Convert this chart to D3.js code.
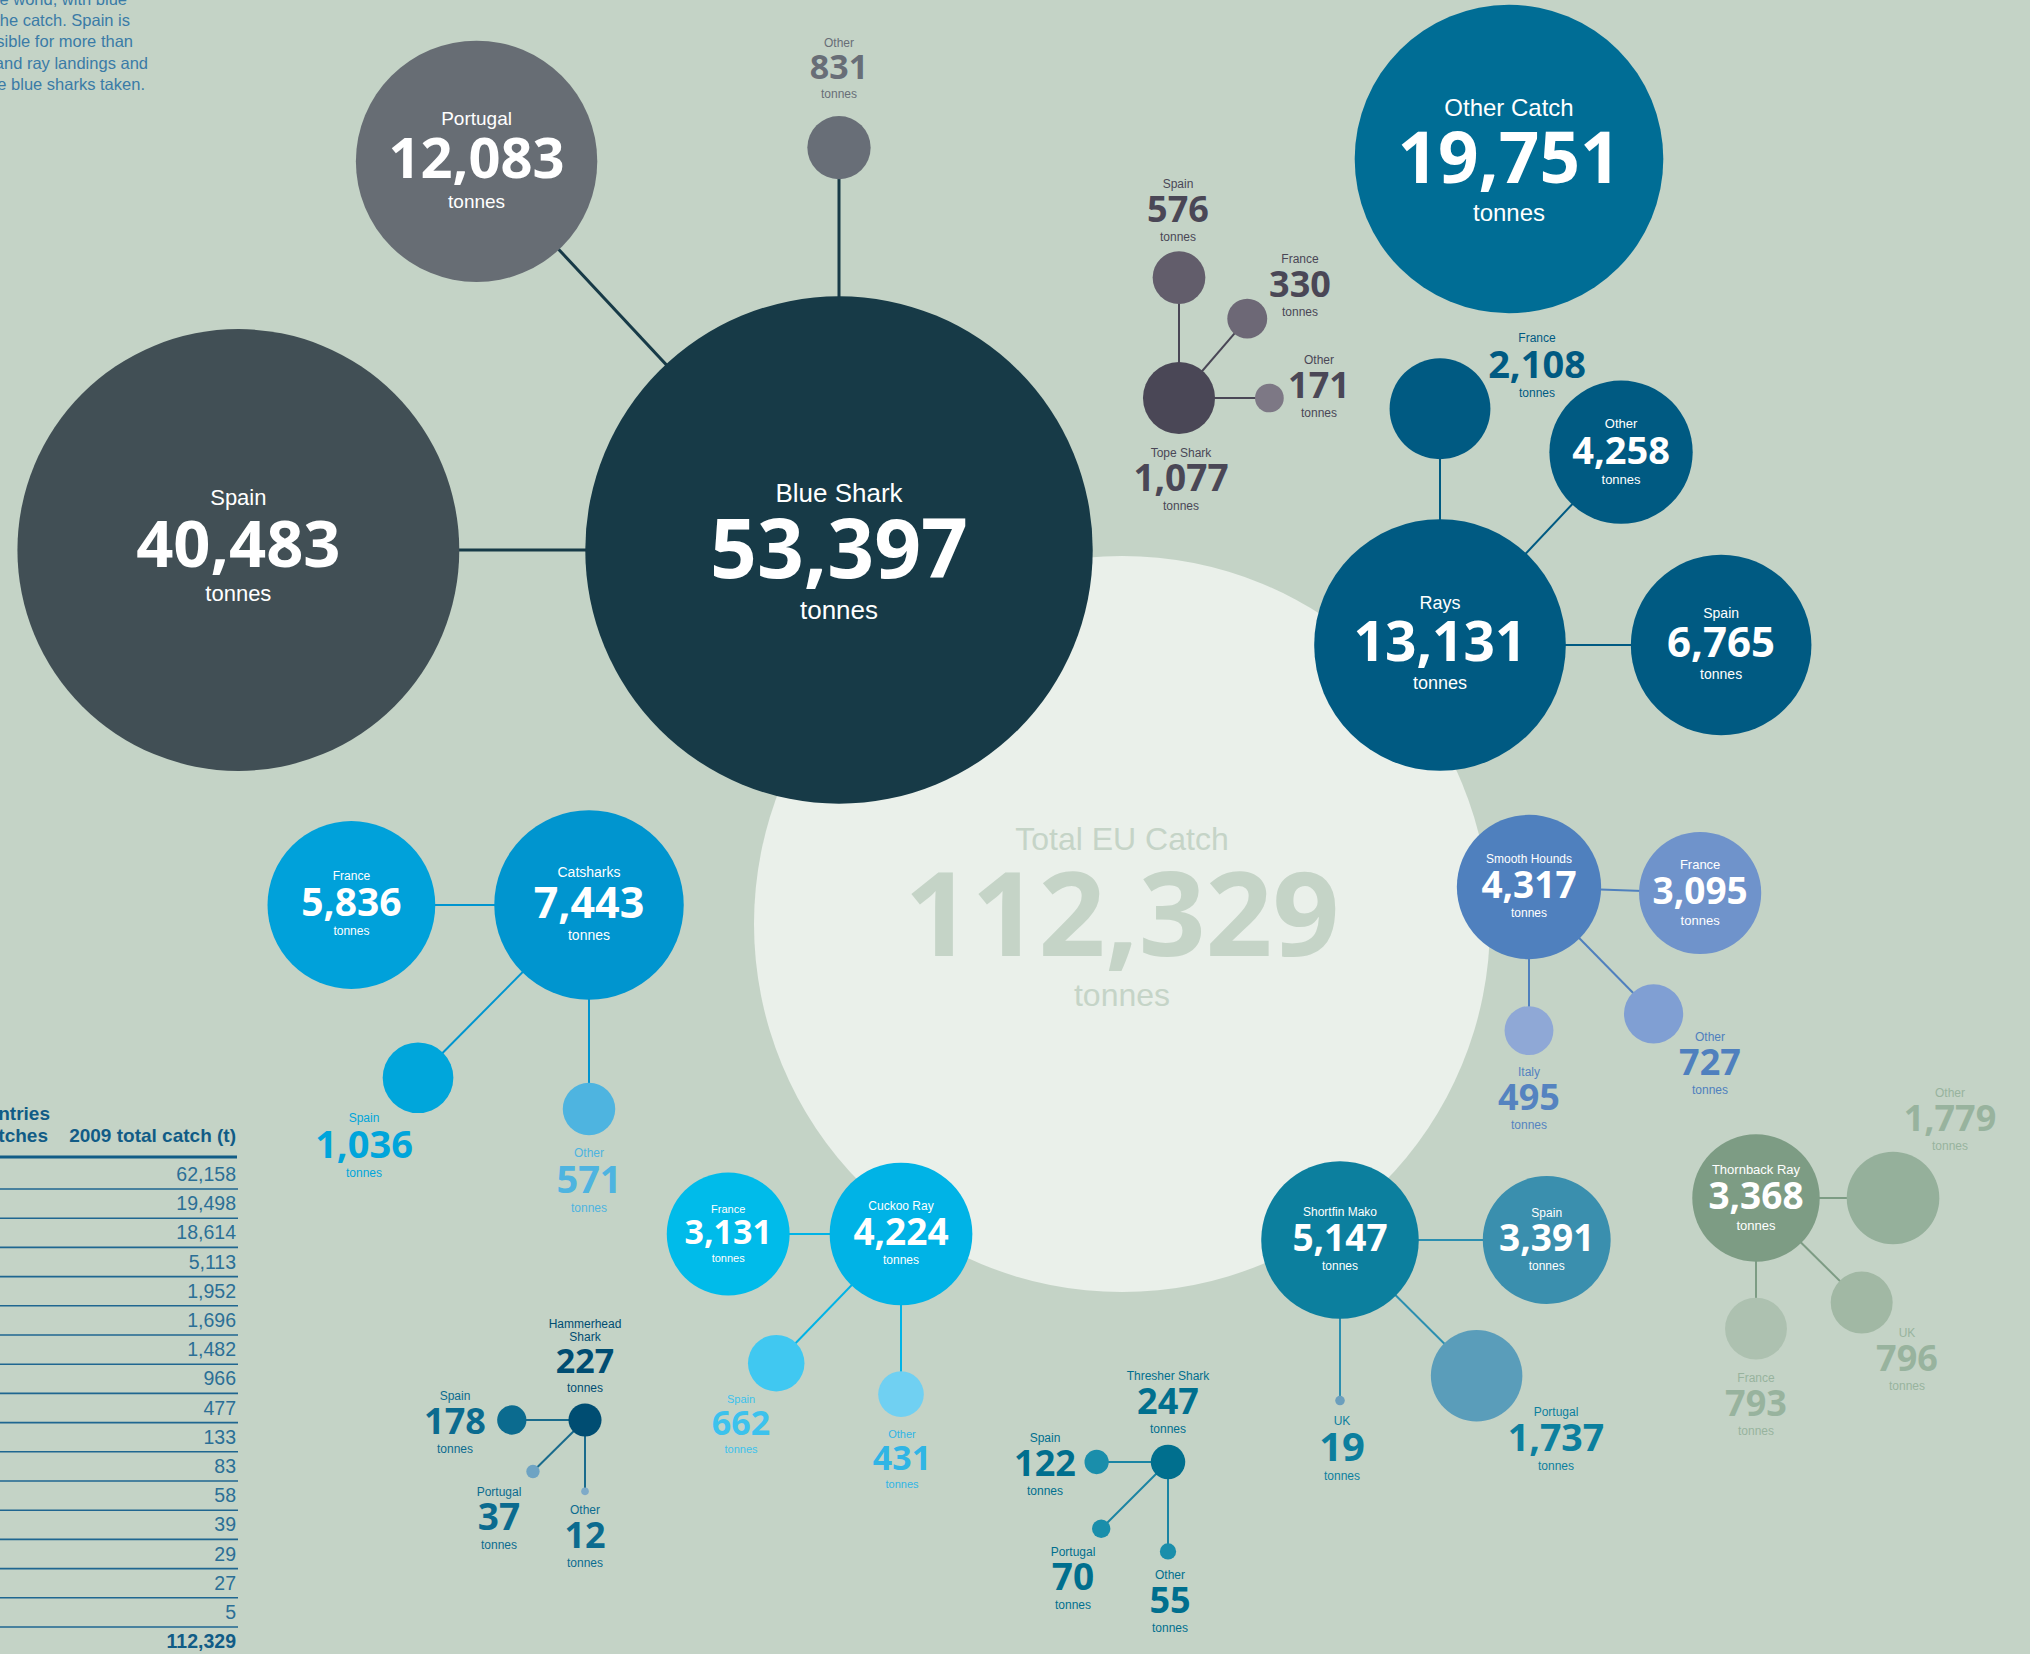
<!DOCTYPE html>
<html>
<head>
<meta charset="utf-8">
<script src="https://cdn.jsdelivr.net/npm/d3@7"></script>
<style>
  html, body { margin: 0; padding: 0; background: #c4d3c6; }
  svg { display: block; }
</style>
</head>
<body>
<svg id="chart"></svg>
<script>
// ---- data ----
const totalCatch = 112329;
const otherCatchLabel = "Other Catch";
const otherCatch = 19751;

const groupNames = ["Blue Shark", "Tope Shark", "Rays", "Catsharks", "Cuckoo Ray",
  "Hammerhead Shark", "Thresher Shark", "Shortfin Mako", "Smooth Hounds", "Thornback Ray"];
const groupValues = [53397, 1077, 13131, 7443, 4224, 227, 247, 5147, 4317, 3368];

const countryNames = [
  ["Spain", "Portugal", "Other"],
  ["Spain", "France", "Other"],
  ["France", "Other", "Spain"],
  ["France", "Spain", "Other"],
  ["France", "Spain", "Other"],
  ["Spain", "Portugal", "Other"],
  ["Spain", "Portugal", "Other"],
  ["Spain", "Portugal", "UK"],
  ["France", "Italy", "Other"],
  ["Other", "UK", "France"]
];
const countryValues = [
  [40483, 12083, 831],
  [576, 330, 171],
  [2108, 4258, 6765],
  [5836, 1036, 571],
  [3131, 662, 431],
  [178, 37, 12],
  [122, 70, 55],
  [3391, 1737, 19],
  [3095, 495, 727],
  [1779, 796, 793]
];

const tableHeader = ["Countries", "with catches"];
const tableColumn = "2009 total catch (t)";
const tableValues = [62158, 19498, 18614, 5113, 1952, 1696, 1482, 966, 477, 133, 83, 58, 39, 29, 27, 5];

const introLines = [
  "sharks caught around the world, with blue",
  "sharks making up most of the catch. Spain is",
  "by far the nation responsible for more than",
  "half of the EU's shark and ray landings and",
  "over three-quarters of the blue sharks taken."
];

// ---- layout (positions, sizes, colours) ----
// angles in degrees, gaps = link length between circle edges
// txt: null = inside the circle, otherwise [x, y of number middle]
const layout = [
  { cx: 839, cy: 550, color: "#173a47", link: "#173a47", lw: 3, nfs: 82, lfs: 26, text: "#173a47", shift: 0.005,
    angles: [180, -133, -90], gaps: [126, 157, 117],
    colors: ["#414f55", "#676d74", "#686e77"], tcol: ["#fff", "#fff", "#686e77"],
    cfs: [[65, 22], [56, 19], [34, 12]], txt: [null, null, [839, 67]] },
  { cx: 1179, cy: 398, color: "#4a4756", link: "#4a4756", lw: 2, nfs: 37, lfs: 12, text: "#4a4756",
    ptxt: [1181, 478],
    angles: [-90, -49.3, 0], gaps: [58, 48.7, 40],
    colors: ["#625d6b", "#6d6876", "#7d7885"], tcol: ["#4a4756", "#4a4756", "#4a4756"],
    cfs: [[36, 12], [36, 12], [36, 12]], txt: [[1178, 209], [1300, 284], [1319, 385]] },
  { cx: 1440, cy: 645, color: "#005a82", link: "#005a82", lw: 2, nfs: 55, lfs: 18, text: "#005a82",
    angles: [-90, -46.8, 0], gaps: [60, 67, 65],
    colors: ["#005a82", "#005a82", "#005a82"], tcol: ["#005a82", "#fff", "#fff"],
    cfs: [[38, 12], [38, 13], [42, 14]], txt: [[1537, 364], null, null] },
  { cx: 589, cy: 905, color: "#0095cf", link: "#0095cf", lw: 2, nfs: 43, lfs: 14, text: "#0095cf",
    angles: [180, 134.7, 90], gaps: [59, 113, 83],
    colors: ["#00a1da", "#00a6db", "#4eb4e0"], tcol: ["#fff", "#00a5db", "#4eb4e0"],
    cfs: [[39, 12], [38, 12], [38, 12]], txt: [null, [364, 1144], [589, 1179]] },
  { cx: 901, cy: 1234, color: "#00b3e6", link: "#00b3e6", lw: 2, nfs: 37, lfs: 12, text: "#00b3e6",
    angles: [180, 134, 90], gaps: [40, 80, 66],
    colors: ["#00bbea", "#40c8f1", "#70d0f2"], tcol: ["#fff", "#3cc2ed", "#30b5e5"],
    cfs: [[34, 11], [34, 11], [34, 11]], txt: [null, [741, 1423], [902, 1458]] },
  { cx: 585, cy: 1420, color: "#004d72", link: "#1a6b8c", lw: 2, nfs: 34, lfs: 12, text: "#004d72",
    ptxt: [585, 1361],
    angles: [180, 135.3, 90], gaps: [42, 50, 51],
    colors: ["#0b6b8f", "#6ea3c3", "#7eaac8"], tcol: ["#0b6b8f", "#0b6b8f", "#0b6b8f"],
    cfs: [[36, 12], [37, 12], [36, 12]], txt: [[455, 1421], [499, 1517], [585, 1535]] },
  { cx: 1168, cy: 1462, color: "#006f8e", link: "#1a84a3", lw: 2, nfs: 36, lfs: 12, text: "#006f8e",
    ptxt: [1168, 1401],
    angles: [180, 135, 90], gaps: [42, 68, 64],
    colors: ["#1a8eab", "#1a8eab", "#1a8eab"], tcol: ["#006f8e", "#006f8e", "#006f8e"],
    cfs: [[36, 12], [37, 12], [36, 12]], txt: [[1045, 1463], [1073, 1577], [1170, 1600]] },
  { cx: 1340, cy: 1240, color: "#0c7f9e", link: "#2b8fb0", lw: 2, nfs: 37, lfs: 12, text: "#0c7f9e",
    angles: [0, 44.8, 90], gaps: [64, 68, 77],
    colors: ["#3a8fae", "#5a9dba", "#6c9fbd"], tcol: ["#fff", "#0c7f9e", "#0c7f9e"],
    cfs: [[37, 12], [37.5, 12], [40, 12]], txt: [null, [1556, 1438], [1342, 1447]] },
  { cx: 1529, cy: 887, color: "#4f80be", link: "#4f80be", lw: 2, nfs: 37, lfs: 12, text: "#4f80be",
    angles: [2, 90, 45.5], gaps: [38, 47, 76],
    colors: ["#6f93cb", "#8fa8d6", "#809fd3"], tcol: ["#fff", "#5583c0", "#4f80be"],
    cfs: [[37, 13], [36, 12], [36, 12]], txt: [null, [1529, 1097], [1710, 1062]] },
  { cx: 1756, cy: 1198, color: "#7d9c84", link: "#7d9c84", lw: 2, nfs: 37, lfs: 13, text: "#7d9c84",
    angles: [0, 44.7, 90], gaps: [27, 54, 36],
    colors: ["#95b09b", "#a1b8a4", "#adc1b0"], tcol: ["#98b39e", "#98b39e", "#98b39e"],
    cfs: [[36, 12], [36, 12], [36, 12]], txt: [[1950, 1118], [1907, 1358], [1756, 1403]] }
];

const width = 2030;
const height = 1654;
const numFont = "'Open Sans', 'Noto Sans', sans-serif";
const lblFont = "'Liberation Sans', Arial, sans-serif";
const fmt = d3.format(",");

const svg = d3.select("#chart")
  .attr("width", width)
  .attr("height", height);

svg.append("rect")
  .attr("width", width)
  .attr("height", height)
  .attr("fill", "#c4d3c6");

const rScale = d3.scaleSqrt()
  .domain([0, totalCatch])
  .range([0, 368]);

// label / number / "tonnes" block, ym = middle of the number
function textBlock(g, x, ym, label, value, nfs, lfs, color) {
  const base = ym + 0.357 * nfs;
  const top = ym - 0.357 * nfs;
  const lines = Array.isArray(label) ? label : [label];
  lines.slice().reverse().forEach((ln, k) => {
    g.append("text")
      .attr("x", x)
      .attr("y", top - 0.68 * lfs - k * 1.05 * lfs)
      .attr("text-anchor", "middle")
      .attr("font-family", lblFont)
      .attr("font-size", lfs)
      .attr("fill", color)
      .text(ln);
  });
  g.append("text")
    .attr("x", x)
    .attr("y", base)
    .attr("text-anchor", "middle")
    .attr("font-family", numFont)
    .attr("font-weight", 700)
    .attr("font-size", nfs)
    .attr("fill", color)
    .text(fmt(value));
  g.append("text")
    .attr("x", x)
    .attr("y", base + 1.58 * lfs)
    .attr("text-anchor", "middle")
    .attr("font-family", lblFont)
    .attr("font-size", lfs)
    .attr("fill", color)
    .text("tonnes");
}

// ---- total EU catch ----
const totalG = svg.append("g");
totalG.append("circle")
  .attr("cx", 1122)
  .attr("cy", 924)
  .attr("r", rScale(totalCatch))
  .attr("fill", "#eaf0ea");
textBlock(totalG, 1122, 914, "Total EU Catch", totalCatch, 117, 32, "#c5d4c7");

// ---- other catch ----
const ocG = svg.append("g");
ocG.append("circle")
  .attr("cx", 1509)
  .attr("cy", 159)
  .attr("r", rScale(otherCatch))
  .attr("fill", "#006d95");
textBlock(ocG, 1509, 158, otherCatchLabel, otherCatch, 71, 24, "#fff");

// ---- species groups ----
const groups = groupNames.map((name, i) => {
  const L = layout[i];
  const r = rScale(groupValues[i]);
  const kids = countryValues[i].map((v, j) => {
    const cr = rScale(v);
    const a = L.angles[j] * Math.PI / 180;
    const d = r + L.gaps[j] + cr;
    return {
      name: countryNames[i][j], value: v, r: cr,
      x: L.cx + d * Math.cos(a), y: L.cy + d * Math.sin(a),
      color: L.colors[j], tcol: L.tcol[j], fs: L.cfs[j], txt: L.txt[j]
    };
  });
  return { name, value: groupValues[i], r, L, kids };
});

const gSel = svg.selectAll("g.group")
  .data(groups)
  .enter()
  .append("g")
  .attr("class", "group");

gSel.each(function (d) {
  const g = d3.select(this);
  const L = d.L;
  g.selectAll("line")
    .data(d.kids)
    .enter()
    .append("line")
    .attr("x1", L.cx)
    .attr("y1", L.cy)
    .attr("x2", k => k.x)
    .attr("y2", k => k.y)
    .attr("stroke", L.link)
    .attr("stroke-width", L.lw);
  g.selectAll("circle.kid")
    .data(d.kids)
    .enter()
    .append("circle")
    .attr("class", "kid")
    .attr("cx", k => k.x)
    .attr("cy", k => k.y)
    .attr("r", k => k.r)
    .attr("fill", k => k.color);
  g.append("circle")
    .attr("cx", L.cx)
    .attr("cy", L.cy)
    .attr("r", d.r)
    .attr("fill", L.color);
});

// labels on top of everything
gSel.each(function (d) {
  const g = d3.select(this);
  const L = d.L;
  const label = d.name === "Hammerhead Shark" ? ["Hammerhead", "Shark"] : d.name;
  if (L.ptxt) {
    textBlock(g, L.ptxt[0], L.ptxt[1], label, d.value, L.nfs, L.lfs, L.text);
  } else {
    const s = L.shift !== undefined ? L.shift : 0.03;
    textBlock(g, L.cx, L.cy - s * d.r, label, d.value, L.nfs, L.lfs, "#fff");
  }
  d.kids.forEach(k => {
    if (k.txt) {
      textBlock(g, k.txt[0], k.txt[1], k.name, k.value, k.fs[0], k.fs[1], k.tcol);
    } else {
      textBlock(g, k.x, k.y - 0.03 * k.r, k.name, k.value, k.fs[0], k.fs[1], k.tcol);
    }
  });
});

// ---- intro text (top left, runs off the page edge) ----
const introRight = [127, 130, 133, 148, 145];
svg.append("g")
  .selectAll("text")
  .data(introLines)
  .enter()
  .append("text")
  .attr("x", (d, i) => introRight[i])
  .attr("y", (d, i) => 5 + i * 21.2)
  .attr("text-anchor", "end")
  .attr("font-family", lblFont)
  .attr("font-size", 16.5)
  .attr("fill", "#3a7ba6")
  .text(d => d);

// ---- table ----
const table = svg.append("g");
const tableRight = 236;
const rowLine = d3.scaleLinear().domain([0, tableValues.length - 1]).range([1189, 1627]);

table.selectAll("text.hdr")
  .data(tableHeader)
  .enter()
  .append("text")
  .attr("class", "hdr")
  .attr("x", (d, i) => i === 0 ? 50 : 48)
  .attr("y", (d, i) => 1120 + i * 22)
  .attr("text-anchor", "end")
  .attr("font-family", lblFont)
  .attr("font-weight", 700)
  .attr("font-size", 19)
  .attr("fill", "#115c86")
  .text(d => d);

table.append("text")
  .attr("x", tableRight)
  .attr("y", 1142)
  .attr("text-anchor", "end")
  .attr("font-family", lblFont)
  .attr("font-weight", 700)
  .attr("font-size", 19)
  .attr("fill", "#115c86")
  .text(tableColumn);

table.append("line")
  .attr("x1", 0).attr("x2", tableRight + 1)
  .attr("y1", 1157).attr("y2", 1157)
  .attr("stroke", "#115c86")
  .attr("stroke-width", 3);

table.selectAll("line.row")
  .data(tableValues)
  .enter()
  .append("line")
  .attr("class", "row")
  .attr("x1", 0).attr("x2", tableRight + 2)
  .attr("y1", (d, i) => rowLine(i))
  .attr("y2", (d, i) => rowLine(i))
  .attr("stroke", "#1f6690")
  .attr("stroke-width", 1.6);

table.selectAll("text.val")
  .data(tableValues)
  .enter()
  .append("text")
  .attr("class", "val")
  .attr("x", tableRight)
  .attr("y", (d, i) => rowLine(i) - 8)
  .attr("text-anchor", "end")
  .attr("font-family", lblFont)
  .attr("font-size", 19.5)
  .attr("fill", "#2b6f96")
  .text(d => fmt(d));

table.append("text")
  .attr("x", tableRight)
  .attr("y", 1648)
  .attr("text-anchor", "end")
  .attr("font-family", lblFont)
  .attr("font-weight", 700)
  .attr("font-size", 19.5)
  .attr("fill", "#115c86")
  .text(fmt(totalCatch));
</script>
</body>
</html>
